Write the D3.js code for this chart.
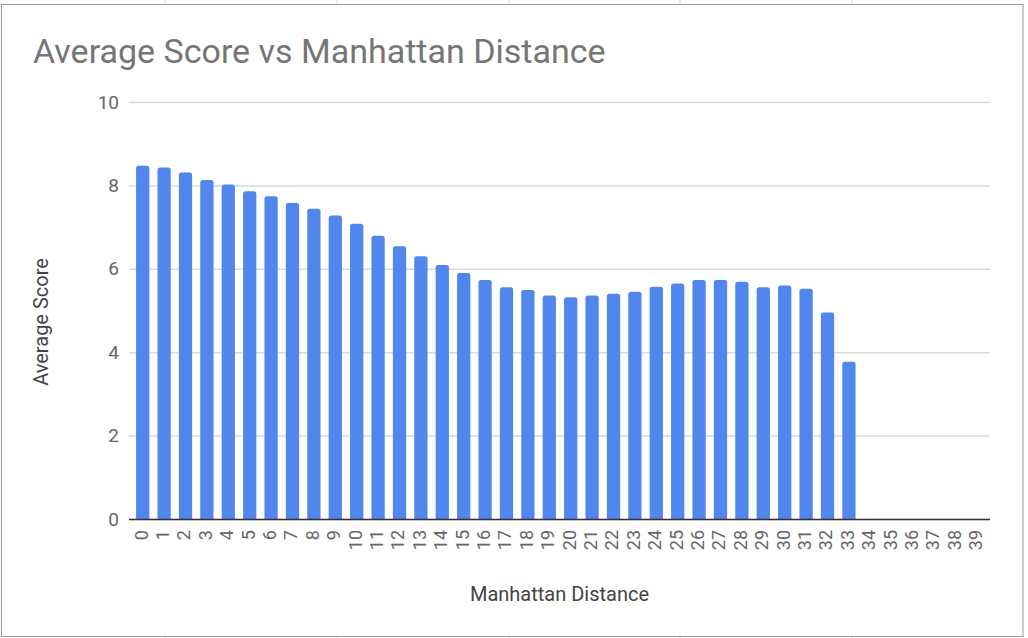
<!DOCTYPE html>
<html>
<head>
<meta charset="utf-8">
<script src="https://cdn.jsdelivr.net/npm/d3@7"></script>
<style>
  html, body { margin: 0; padding: 0; background: #fff; }
  svg { display: block; font-family: Roboto, "Noto Sans", Arial, sans-serif; }
</style>
</head>
<body>
<div id="chart"></div>
<script>
var titleText = 'Average Score vs Manhattan Distance';
var xTitle = 'Manhattan Distance';
var yTitle = 'Average Score';

// x categories (Manhattan distance)
var distances = ['0', '1', '2', '3', '4', '5', '6', '7', '8', '9',
  '10', '11', '12', '13', '14', '15', '16', '17', '18', '19',
  '20', '21', '22', '23', '24', '25', '26', '27', '28', '29',
  '30', '31', '32', '33', '34', '35', '36', '37', '38', '39'];

// average score per distance, null = no data
var avgScores = [8.47, 8.43, 8.31, 8.13, 8.02, 7.86, 7.74, 7.58, 7.44, 7.28,
  7.08, 6.79, 6.54, 6.30, 6.09, 5.90, 5.73, 5.56, 5.49, 5.36,
  5.32, 5.36, 5.40, 5.45, 5.57, 5.65, 5.73, 5.73, 5.69, 5.56,
  5.60, 5.52, 4.95, 3.77, null, null, null, null, null, null];

var yTicks = [0, 2, 4, 6, 8, 10];

var width = 1028, height = 638;
var plotLeft = 129, plotRight = 990, plotTop = 102, plotBottom = 519;

var svg = d3.select('#chart')
  .append('svg')
  .attr('width', width)
  .attr('height', height);

// spreadsheet column lines peeking behind the chart
svg.append('g')
  .selectAll('line')
  .data([165, 337, 509, 680, 852])
  .enter()
  .append('line')
  .attr('x1', function (d) { return d; })
  .attr('x2', function (d) { return d; })
  .attr('y1', 0)
  .attr('y2', height)
  .attr('stroke', '#d6d6d6');

// chart frame
svg.append('rect')
  .attr('x', 1.5)
  .attr('y', 4.5)
  .attr('width', 1021.5)
  .attr('height', 632)
  .attr('fill', '#fff')
  .attr('stroke', '#9a9a9a');

var x = d3.scaleBand()
  .domain(distances)
  .range([132, 988])
  .paddingInner(0.38)
  .paddingOuter(0.19);

var y = d3.scaleLinear()
  .domain([0, 10])
  .range([plotBottom, plotTop]);

// title
svg.append('text')
  .attr('x', 33)
  .attr('y', 63)
  .attr('fill', '#757575')
  .style('font-size', '34px')
  .text(titleText);

// gridlines + y tick labels
var yAxis = svg.append('g')
  .attr('class', 'yAxis')
  .attr('transform', 'translate(' + plotLeft + ',0)')
  .call(d3.axisLeft(y).tickValues(yTicks).tickSize(-(plotRight - plotLeft)).tickPadding(10));
yAxis.select('.domain').remove();
yAxis.selectAll('.tick line')
  .attr('stroke', '#d9d9d9')
  .attr('stroke-width', 1.5);
yAxis.selectAll('.tick text')
  .attr('fill', '#666')
  .style('font-size', '19px')
  .style('font-family', 'Roboto, sans-serif');

// bars
svg.append('g')
  .selectAll('path')
  .data(avgScores.map(function (v, i) { return { d: distances[i], v: v }; })
    .filter(function (o) { return o.v !== null; }))
  .enter()
  .append('path')
  .attr('fill', '#5187ec')
  .attr('d', function (o) {
    var x0 = x(o.d), w = x.bandwidth(), y0 = y(o.v), r = 2.5;
    return 'M' + x0 + ',' + plotBottom +
      'V' + (y0 + r) +
      'Q' + x0 + ',' + y0 + ' ' + (x0 + r) + ',' + y0 +
      'H' + (x0 + w - r) +
      'Q' + (x0 + w) + ',' + y0 + ' ' + (x0 + w) + ',' + (y0 + r) +
      'V' + plotBottom + 'Z';
  });

// x baseline
svg.append('line')
  .attr('x1', plotLeft)
  .attr('x2', plotRight)
  .attr('y1', plotBottom + 0.5)
  .attr('y2', plotBottom + 0.5)
  .attr('stroke', '#333')
  .attr('stroke-width', 1.5);

// x tick labels (rotated)
svg.append('g')
  .selectAll('text')
  .data(distances)
  .enter()
  .append('text')
  .attr('transform', function (d) {
    return 'translate(' + (x(d) + x.bandwidth() / 2 - 1.5) + ',' + (plotBottom + 11) + ') rotate(-90)';
  })
  .attr('text-anchor', 'end')
  .attr('dy', '0.35em')
  .attr('fill', '#666')
  .style('font-size', '18px')
  .text(function (d) { return d; });

// axis titles
svg.append('text')
  .attr('x', (plotLeft + plotRight) / 2)
  .attr('y', 601)
  .attr('text-anchor', 'middle')
  .attr('fill', '#444')
  .style('font-size', '20px')
  .text(xTitle);

svg.append('text')
  .attr('transform', 'translate(48,322) rotate(-90)')
  .attr('text-anchor', 'middle')
  .attr('fill', '#444')
  .style('font-size', '20px')
  .text(yTitle);
</script>
</body>
</html>
